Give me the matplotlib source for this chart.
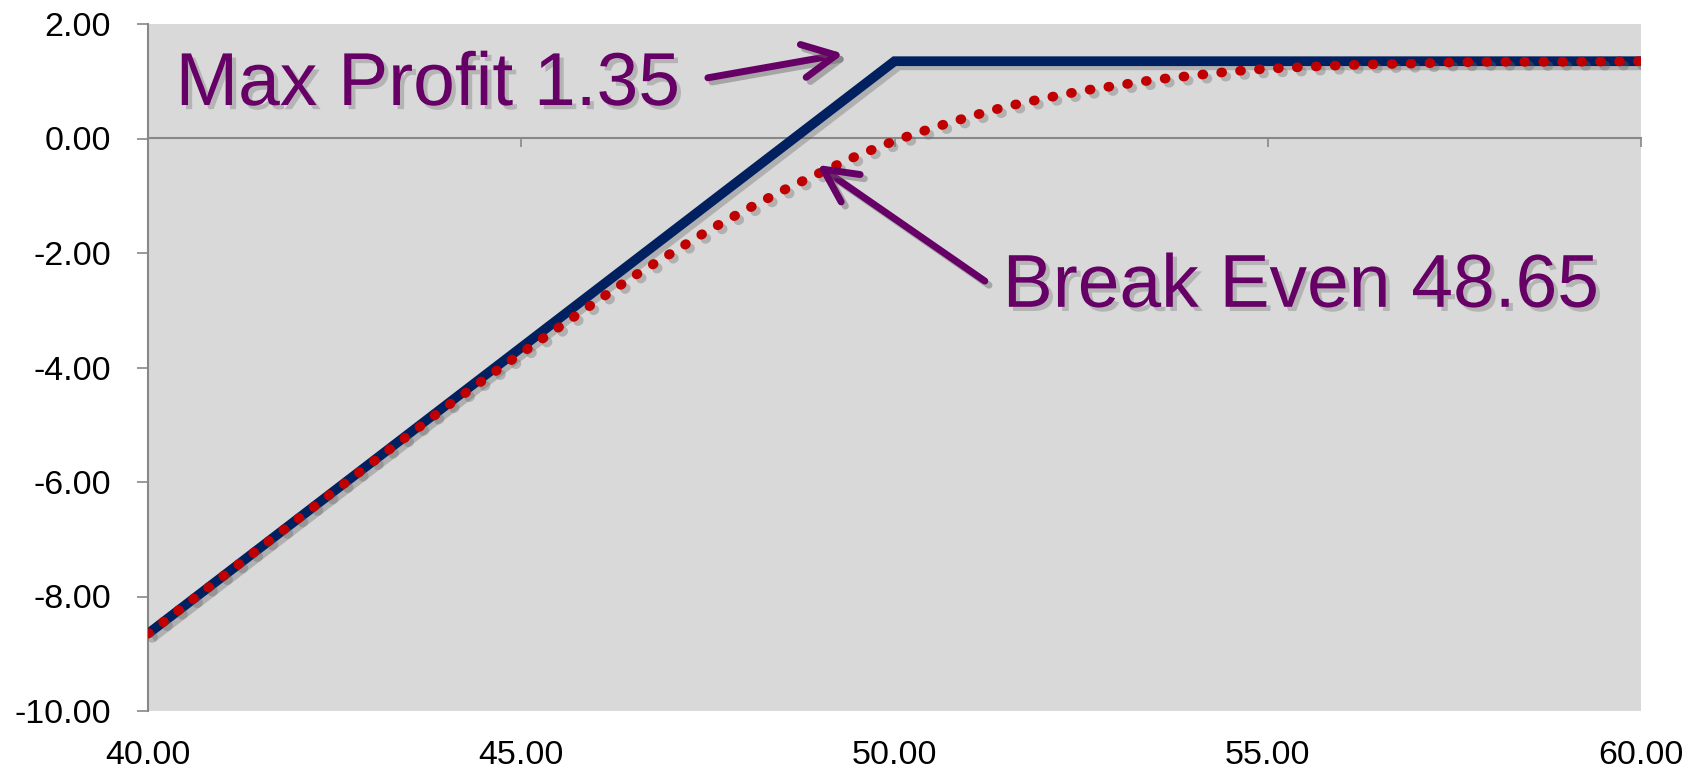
import matplotlib
matplotlib.use("Agg")
import matplotlib.pyplot as plt
import matplotlib.patheffects as pe
from matplotlib.ticker import FormatStrFormatter

plt.rcParams["font.family"] = ["Liberation Sans", "DejaVu Sans"]

# expiry payoff (short put, strike 50, premium 1.35)
expiry_x = [40.0, 50.0, 60.0]
expiry_y = [-8.65, 1.35, 1.35]

# value before expiry
current_x = [40.0, 41.0, 42.0, 43.0, 44.0, 44.5, 45.0, 45.5, 46.0, 46.5, 47.0, 47.5,
             48.0, 48.5, 49.0, 49.5, 50.0, 50.5, 51.0, 51.5, 52.0, 52.5, 53.0, 53.5,
             54.0, 54.5, 55.0, 55.5, 56.0, 56.5, 57.0, 57.5, 58.0, 59.0, 60.0]
current_y = [-8.65, -7.65, -6.65, -5.66, -4.68, -4.21, -3.75, -3.30, -2.85, -2.41, -2.01, -1.61,
             -1.25, -0.91, -0.60, -0.30, -0.04, 0.18, 0.38, 0.56, 0.70, 0.83, 0.93, 1.03,
             1.10, 1.17, 1.22, 1.25, 1.28, 1.30, 1.31, 1.33, 1.34, 1.34, 1.35]

x_ticks = [40, 45, 50, 55, 60]
y_ticks = [-10, -8, -6, -4, -2, 0, 2]

max_profit_label = "Max Profit 1.35"
break_even_label = "Break Even 48.65"

PURPLE = "#660066"
NAVY = "#002060"
RED = "#C00000"
AXIS_GREY = "#888888"

W, H = 1696, 772
fig = plt.figure(figsize=(W / 100, H / 100), dpi=100)
ax = fig.add_axes([148 / W, 1 - 711 / H, (1641 - 148) / W, (711 - 24) / H])
ax.set_facecolor("#D9D9D9")

line_shadow = [pe.SimpleLineShadow(offset=(3, -3), shadow_color="#666666", alpha=0.35), pe.Normal()]

ax.plot(expiry_x, expiry_y, color=NAVY, lw=7, solid_joinstyle="miter",
        solid_capstyle="butt", path_effects=line_shadow, zorder=3)
ax.plot(current_x, current_y, color=RED, lw=7, linestyle=(0, (0.1, 1.85)),
        dash_capstyle="round", path_effects=line_shadow, zorder=4)

ax.set_xlim(40, 60)
ax.set_ylim(-10, 2)
ax.set_xticks(x_ticks)
ax.set_yticks(y_ticks)
ax.xaxis.set_major_formatter(FormatStrFormatter("%.2f"))
ax.yaxis.set_major_formatter(FormatStrFormatter("%.2f"))
ax.tick_params(axis="x", length=0, pad=21, labelsize=24.5)
ax.tick_params(axis="y", length=8, width=1.2, color=AXIS_GREY, direction="out", pad=18.5, labelsize=24.5)

for side in ["top", "right", "bottom"]:
    ax.spines[side].set_visible(False)
ax.spines["left"].set_color(AXIS_GREY)
ax.spines["left"].set_linewidth(1.5)

# horizontal axis line crosses at zero, labels stay low
zero_axis = ax.secondary_xaxis(10 / 12)
zero_axis.set_xticks(x_ticks)
zero_axis.xaxis.set_ticks_position("bottom")
zero_axis.tick_params(axis="x", length=6, width=1.2, color=AXIS_GREY, direction="out", labelbottom=False, labeltop=False)
for side in ["top", "bottom"]:
    zero_axis.spines[side].set_color(AXIS_GREY)
    zero_axis.spines[side].set_linewidth(1.5)

text_shadow = [pe.SimplePatchShadow(offset=(3, -3), shadow_rgbFace="#888888", alpha=0.45), pe.Normal()]
arrow_shadow = [pe.SimpleLineShadow(offset=(3, -3), shadow_color="#666666", alpha=0.45), pe.Normal()]

ax.text(40.37, 0.585, max_profit_label, fontsize=54, color=PURPLE, va="baseline",
        path_effects=text_shadow, zorder=5)
ax.text(51.45, -2.94, break_even_label, fontsize=54, color=PURPLE, va="baseline",
        path_effects=text_shadow, zorder=5)

arrow_props = dict(arrowstyle="->, head_length=1.2, head_width=0.6", color=PURPLE, lw=5,
                   mutation_scale=20, shrinkA=0, shrinkB=0, path_effects=arrow_shadow)
ax.annotate("", xy=(49.32, 1.48), xytext=(47.50, 1.06), arrowprops=arrow_props, zorder=5)
ax.annotate("", xy=(48.96, -0.46), xytext=(51.21, -2.49), arrowprops=arrow_props, zorder=5)

fig.savefig("out.png", dpi=100, facecolor="white")
